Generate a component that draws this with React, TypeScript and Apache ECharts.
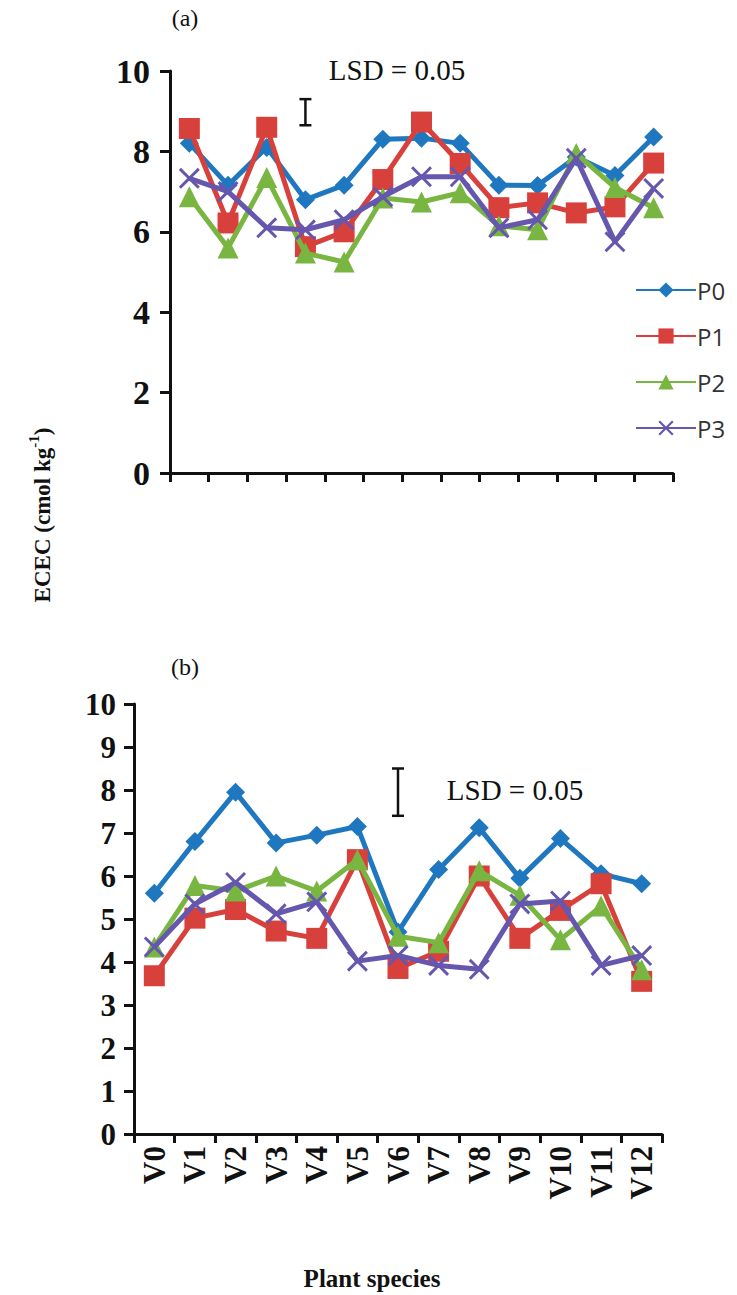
import React, { useEffect, useRef } from "react";
import * as echarts from "echarts";

const categories = ["V0", "V1", "V2", "V3", "V4", "V5", "V6", "V7", "V8", "V9", "V10", "V11", "V12"];
const seriesNames = ["P0", "P1", "P2", "P3"];

// (a)
const aP0 = [8.2, 7.16, 8.1, 6.8, 7.16, 8.3, 8.33, 8.2, 7.16, 7.15, 7.86, 7.4, 8.36];
const aP1 = [8.57, 6.22, 8.6, 5.63, 6.0, 7.3, 8.73, 7.7, 6.6, 6.72, 6.47, 6.62, 7.71];
const aP2 = [6.87, 5.6, 7.35, 5.47, 5.25, 6.84, 6.74, 6.97, 6.15, 6.05, 7.95, 7.1, 6.6];
const aP3 = [7.33, 7.0, 6.1, 6.05, 6.3, 6.87, 7.37, 7.37, 6.1, 6.3, 7.83, 5.75, 7.08];

// (b)
const bP0 = [5.6, 6.8, 7.95, 6.77, 6.95, 7.15, 4.7, 6.15, 7.12, 5.95, 6.87, 6.05, 5.82];
const bP1 = [3.68, 5.02, 5.22, 4.72, 4.55, 6.38, 3.85, 4.25, 6.0, 4.55, 5.2, 5.82, 3.55];
const bP2 = [4.35, 5.78, 5.65, 6.0, 5.65, 6.38, 4.6, 4.45, 6.12, 5.55, 4.52, 5.3, 3.82];
const bP3 = [4.35, 5.35, 5.85, 5.12, 5.4, 4.02, 4.15, 3.92, 3.83, 5.35, 5.42, 3.92, 4.15];

// LSD bars: [category index, low, high]
const lsdA = [[3, 8.65, 9.3]];
const lsdB = [[6, 7.4, 8.5]];

const colors = ["#1f78bf", "#d8403b", "#79b641", "#6657ae"];
const symbols = [
  "diamond",
  "rect",
  "triangle",
  "path://M0,1 L1,0 L5,4 L9,0 L10,1 L6,5 L10,9 L9,10 L5,6 L1,10 L0,9 L4,5 Z",
];
const symbolSizes = [19, 21, 21, 21];

const serif = "'Liberation Serif', 'Times New Roman', serif";

export default function App() {
  const ref = useRef<HTMLDivElement>(null);

  useEffect(() => {
    document.body.style.margin = "0";
    if (!ref.current) return;
    const chart = echarts.init(ref.current, null, { renderer: "svg" });

    const axisLineStyle = { color: "#111", width: 3 };
    const yLabelA = { fontSize: 34, fontWeight: "bold", fontFamily: serif, color: "#111", margin: 20 };
    const yLabelB = { fontSize: 31, fontWeight: "bold", fontFamily: serif, color: "#111", margin: 18 };

    const makeLines = (data: number[][], gi: number) =>
      data.map((vals, i) => ({
        name: seriesNames[i],
        type: "line",
        xAxisIndex: gi,
        yAxisIndex: gi,
        data: vals,
        symbol: symbols[i],
        symbolSize: symbolSizes[i],
        lineStyle: { color: colors[i], width: 5 },
        itemStyle: { color: colors[i] },
        z: 3 + i,
      }));

    const lsdRender = (params: any, api: any) => {
      const p1 = api.coord([api.value(0), api.value(1)]);
      const p2 = api.coord([api.value(0), api.value(2)]);
      const w = 6;
      const style = { stroke: "#111", lineWidth: 2.5 };
      return {
        type: "group",
        children: [
          { type: "line", shape: { x1: p1[0], y1: p1[1], x2: p2[0], y2: p2[1] }, style },
          { type: "line", shape: { x1: p1[0] - w, y1: p1[1], x2: p1[0] + w, y2: p1[1] }, style },
          { type: "line", shape: { x1: p2[0] - w, y1: p2[1], x2: p2[0] + w, y2: p2[1] }, style },
        ],
      };
    };

    const option: any = {
      animation: false,
      backgroundColor: "#fff",
      grid: [
        { left: 170, top: 71, width: 503, height: 402 },
        { left: 134, top: 704, width: 528, height: 430 },
      ],
      xAxis: [
        {
          type: "category",
          gridIndex: 0,
          data: categories,
          boundaryGap: true,
          axisLine: { lineStyle: axisLineStyle },
          axisTick: { show: true, length: 9, lineStyle: { width: 3, color: "#111" } },
          axisLabel: { show: false },
          splitLine: { show: false },
        },
        {
          type: "category",
          gridIndex: 1,
          data: categories,
          boundaryGap: true,
          axisLine: { lineStyle: axisLineStyle },
          axisTick: { show: true, length: 9, lineStyle: { width: 3, color: "#111" } },
          axisLabel: {
            interval: 0,
            rotate: 90,
            fontSize: 31,
            fontWeight: "bold",
            fontFamily: serif,
            color: "#111",
            margin: 12,
          },
          splitLine: { show: false },
        },
      ],
      yAxis: [
        {
          type: "value",
          gridIndex: 0,
          min: 0,
          max: 10,
          interval: 2,
          axisLine: { show: true, lineStyle: axisLineStyle },
          axisTick: { show: true, length: 10, lineStyle: { width: 3, color: "#111" } },
          axisLabel: yLabelA,
          splitLine: { show: false },
        },
        {
          type: "value",
          gridIndex: 1,
          min: 0,
          max: 10,
          interval: 1,
          axisLine: { show: true, lineStyle: axisLineStyle },
          axisTick: { show: true, length: 10, lineStyle: { width: 3, color: "#111" } },
          axisLabel: yLabelB,
          splitLine: { show: false },
        },
      ],
      legend: {
        data: seriesNames,
        orient: "vertical",
        left: 630,
        top: 273,
        itemWidth: 60,
        itemHeight: 19,
        itemGap: 22,
        textStyle: { fontSize: 24, fontFamily: "'Open Sans', 'Noto Sans', sans-serif", color: "#333", padding: [0, 0, 0, -4] },
      },
      series: [
        ...makeLines([aP0, aP1, aP2, aP3], 0),
        ...makeLines([bP0, bP1, bP2, bP3], 1),
        {
          name: "LSD a",
          type: "custom",
          xAxisIndex: 0,
          yAxisIndex: 0,
          data: lsdA,
          encode: { x: 0, y: [1, 2] },
          renderItem: lsdRender,
          silent: true,
        },
        {
          name: "LSD b",
          type: "custom",
          xAxisIndex: 1,
          yAxisIndex: 1,
          data: lsdB,
          encode: { x: 0, y: [1, 2] },
          renderItem: lsdRender,
          silent: true,
        },
      ],
      graphic: [
        {
          type: "text",
          x: 185,
          y: 18,
          style: { text: "(a)", font: `24px ${serif}`, fill: "#111", align: "center", verticalAlign: "middle" },
        },
        {
          type: "text",
          x: 397,
          y: 70,
          style: { text: "LSD = 0.05", font: `29px ${serif}`, fill: "#111", align: "center", verticalAlign: "middle" },
        },
        {
          type: "text",
          x: 185,
          y: 667,
          style: { text: "(b)", font: `24px ${serif}`, fill: "#111", align: "center", verticalAlign: "middle" },
        },
        {
          type: "text",
          x: 515,
          y: 790,
          style: { text: "LSD = 0.05", font: `29px ${serif}`, fill: "#111", align: "center", verticalAlign: "middle" },
        },
        {
          type: "text",
          x: 40,
          y: 515,
          rotation: Math.PI / 2,
          style: {
            text: "{b|ECEC (cmol kg}{s|-1}{b|)}",
            align: "center",
            verticalAlign: "middle",
            fill: "#111",
            rich: {
              b: { fontSize: 23, fontWeight: "bold", fontFamily: serif, fill: "#111", lineHeight: 28, verticalAlign: "bottom" },
              s: { fontSize: 15, fontWeight: "bold", fontFamily: serif, fill: "#111", lineHeight: 28, verticalAlign: "top" },
            },
          },
        },
        {
          type: "text",
          x: 372,
          y: 1278,
          style: { text: "Plant species", font: `bold 25px ${serif}`, fill: "#111", align: "center", verticalAlign: "middle" },
        },
      ],
    };

    chart.setOption(option);
    return () => chart.dispose();
  }, []);

  return <div ref={ref} style={{ width: 737, height: 1295 }} />;
}
